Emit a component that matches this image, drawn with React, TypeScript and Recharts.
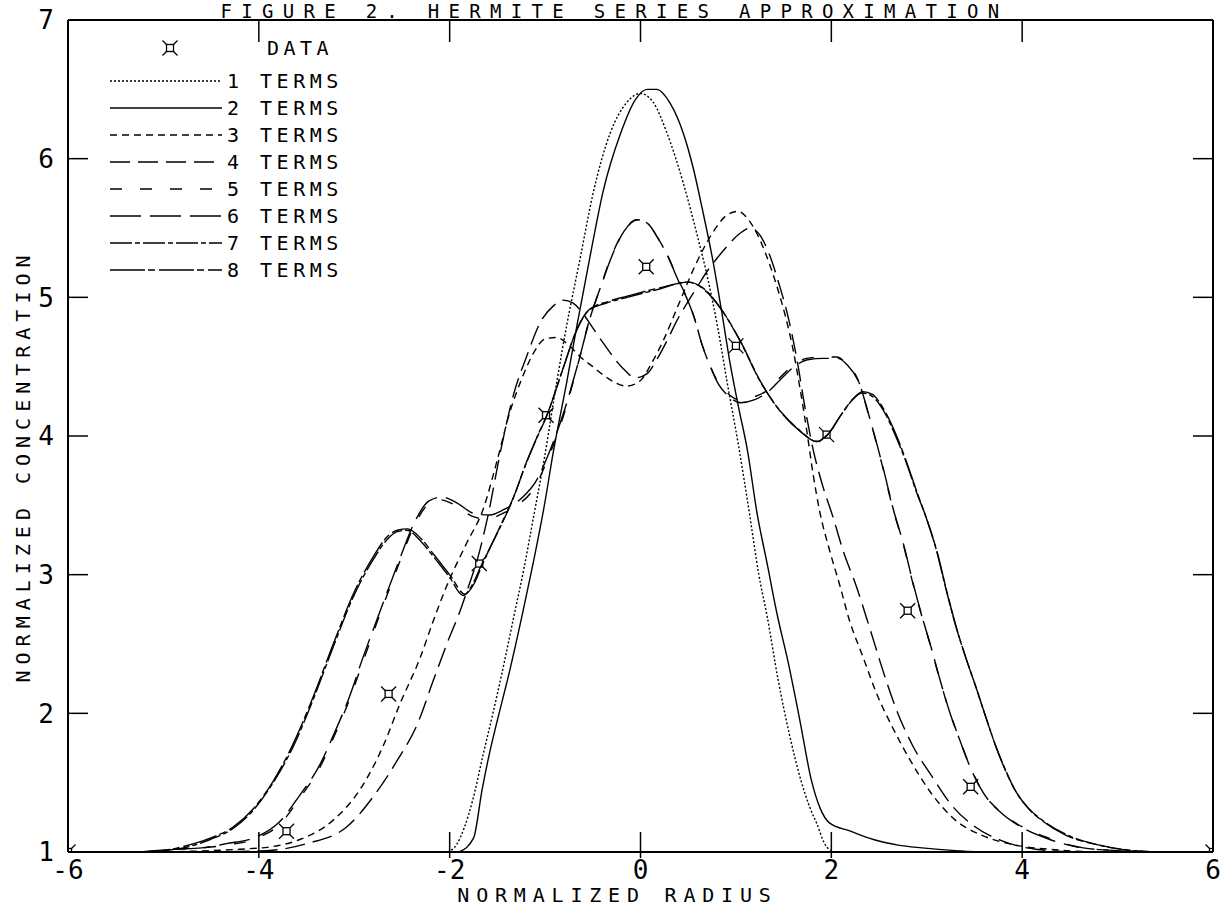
import React from 'react'
import { ComposedChart, Line, Scatter, XAxis, YAxis, Legend, Label } from 'recharts'

const FONT = '"DejaVu Sans Mono", monospace'
const INK = '#000'

type Pt = [number, number]

const radiusTicks = [-6, -4, -2, 0, 2, 4, 6]
const concTicks = [1, 2, 3, 4, 5, 6, 7]

// measured data (normalized radius, normalized concentration)
const dataPoints: Pt[] = [
  [-6, 1.0], [-3.71, 1.15], [-2.64, 2.14], [-1.69, 3.08], [-0.99, 4.15], [0.06, 5.22],
  [1.0, 4.65], [1.95, 4.01], [2.8, 2.74], [3.46, 1.47], [6, 1.0],
]

const terms1: Pt[] = [
  [-2.02, 1.0], [-1.93, 1.05], [-1.85, 1.17], [-1.76, 1.37], [-1.65, 1.7], [-1.54, 2.02], [-1.43, 2.36],
  [-1.33, 2.69], [-1.22, 3.05], [-1.12, 3.42], [-1.01, 3.83], [-0.88, 4.38], [-0.77, 4.81], [-0.63, 5.29],
  [-0.5, 5.74], [-0.32, 6.18], [-0.15, 6.4], [0.0, 6.47], [0.13, 6.41], [0.28, 6.18], [0.45, 5.82],
  [0.59, 5.46], [0.71, 5.12], [0.81, 4.78], [0.91, 4.38], [1.03, 3.92], [1.14, 3.45], [1.24, 3.0],
  [1.33, 2.69], [1.44, 2.25], [1.56, 1.85], [1.68, 1.52], [1.77, 1.33], [1.85, 1.2], [1.93, 1.06], [2.02, 1.0],
]

const terms2: Pt[] = [
  [-1.9, 1.0], [-1.75, 1.1], [-1.66, 1.45], [-1.58, 1.72], [-1.5, 1.95], [-1.37, 2.31], [-1.23, 2.74],
  [-1.12, 3.1], [-1.01, 3.49], [-0.91, 3.9], [-0.77, 4.4], [-0.66, 4.82], [-0.53, 5.29], [-0.39, 5.77],
  [-0.21, 6.18], [-0.05, 6.43], [0.07, 6.5], [0.17, 6.5], [0.31, 6.4], [0.45, 6.18], [0.55, 5.94],
  [0.65, 5.63], [0.76, 5.26], [0.85, 4.9], [0.94, 4.52], [1.03, 4.2], [1.12, 3.9], [1.22, 3.45],
  [1.33, 3.07], [1.43, 2.72], [1.55, 2.36], [1.67, 1.95], [1.79, 1.52], [1.88, 1.32], [1.98, 1.21],
  [2.2, 1.15], [2.44, 1.09], [2.7, 1.05], [2.95, 1.03], [3.3, 1.01], [3.6, 1.0],
]

const terms3: Pt[] = [
  [-5.1, 1.0], [-4.5, 1.01], [-4.2, 1.02], [-3.85, 1.04], [-3.57, 1.09], [-3.22, 1.23], [-2.94, 1.45],
  [-2.7, 1.76], [-2.52, 2.07], [-2.31, 2.4], [-2.17, 2.67], [-2.03, 2.92], [-1.82, 3.23], [-1.65, 3.47],
  [-1.5, 3.83], [-1.37, 4.17], [-1.24, 4.42], [-1.12, 4.6], [-1.0, 4.7], [-0.88, 4.71], [-0.76, 4.66],
  [-0.63, 4.57], [-0.5, 4.5], [-0.35, 4.42], [-0.15, 4.36], [0.0, 4.4], [0.12, 4.53], [0.24, 4.69],
  [0.4, 4.95], [0.58, 5.24], [0.76, 5.47], [0.9, 5.59], [1.02, 5.62], [1.12, 5.57], [1.22, 5.46],
  [1.32, 5.3], [1.42, 5.1], [1.52, 4.86], [1.6, 4.62], [1.67, 4.35], [1.74, 4.05], [1.81, 3.72],
  [1.88, 3.45], [1.98, 3.18], [2.09, 2.92], [2.19, 2.67], [2.33, 2.41], [2.47, 2.15], [2.64, 1.9],
  [2.82, 1.67], [3.03, 1.44], [3.3, 1.23], [3.58, 1.12], [3.93, 1.05], [4.28, 1.02], [4.8, 1.0],
]

const terms4: Pt[] = [
  [-4.6, 1.0], [-3.92, 1.01], [-3.5, 1.06], [-3.08, 1.18], [-2.8, 1.4], [-2.55, 1.66], [-2.34, 1.92],
  [-2.17, 2.24], [-2.03, 2.5], [-1.89, 2.74], [-1.8, 2.92], [-1.71, 3.11], [-1.6, 3.42], [-1.47, 3.88],
  [-1.33, 4.3], [-1.19, 4.58], [-1.05, 4.82], [-0.91, 4.94], [-0.81, 4.98], [-0.71, 4.96], [-0.6, 4.88],
  [-0.5, 4.78], [-0.39, 4.67], [-0.2, 4.5], [-0.05, 4.42], [0.07, 4.45], [0.17, 4.55], [0.28, 4.69],
  [0.38, 4.83], [0.49, 4.96], [0.59, 5.07], [0.7, 5.19], [0.8, 5.28], [0.91, 5.37], [1.04, 5.46],
  [1.15, 5.5], [1.25, 5.45], [1.35, 5.31], [1.45, 5.1], [1.55, 4.85], [1.64, 4.55], [1.72, 4.22],
  [1.81, 3.9], [1.91, 3.64], [2.02, 3.41], [2.12, 3.18], [2.26, 2.92], [2.4, 2.62], [2.54, 2.31],
  [2.68, 2.03], [2.85, 1.77], [3.06, 1.54], [3.27, 1.33], [3.51, 1.18], [3.79, 1.08], [4.14, 1.02], [4.6, 1.0],
]

const terms5: Pt[] = [
  [-5.2, 1.0], [-4.86, 1.02], [-4.6, 1.03], [-4.34, 1.05], [-4.02, 1.1], [-3.78, 1.2], [-3.57, 1.39],
  [-3.36, 1.61], [-3.22, 1.82], [-3.05, 2.1], [-2.91, 2.37], [-2.76, 2.66], [-2.63, 2.9], [-2.52, 3.1],
  [-2.36, 3.37], [-2.22, 3.51], [-2.1, 3.54], [-1.94, 3.5], [-1.76, 3.42], [-1.6, 3.4], [-1.45, 3.44],
  [-1.27, 3.51], [-1.1, 3.64], [-0.98, 3.82], [-0.81, 4.14], [-0.67, 4.48], [-0.53, 4.85], [-0.42, 5.07],
  [-0.32, 5.27], [-0.18, 5.47], [-0.04, 5.56], [0.07, 5.54], [0.17, 5.44], [0.28, 5.31], [0.38, 5.15],
  [0.49, 4.99], [0.56, 4.86], [0.63, 4.69], [0.71, 4.54], [0.81, 4.39], [0.91, 4.31], [1.04, 4.26],
  [1.18, 4.28], [1.33, 4.33], [1.46, 4.42], [1.6, 4.51], [1.74, 4.56], [1.91, 4.57], [2.06, 4.57],
  [2.16, 4.52], [2.27, 4.42], [2.4, 4.13], [2.54, 3.77], [2.64, 3.49], [2.75, 3.23], [2.85, 2.95],
  [2.94, 2.72], [3.03, 2.51], [3.13, 2.26], [3.23, 2.03], [3.34, 1.82], [3.44, 1.64], [3.58, 1.44],
  [3.79, 1.28], [3.93, 1.21], [4.28, 1.1], [4.63, 1.03], [5.0, 1.01], [5.3, 1.0],
]

const terms6: Pt[] = [
  [-5.25, 1.0], [-4.9, 1.02], [-4.6, 1.03], [-4.34, 1.06], [-4.02, 1.11], [-3.78, 1.22], [-3.57, 1.41],
  [-3.36, 1.63], [-3.22, 1.84], [-3.05, 2.12], [-2.91, 2.4], [-2.76, 2.68], [-2.63, 2.92], [-2.52, 3.12],
  [-2.36, 3.39], [-2.22, 3.53], [-2.08, 3.56], [-1.93, 3.52], [-1.74, 3.44], [-1.58, 3.43], [-1.43, 3.47],
  [-1.25, 3.55], [-1.09, 3.68], [-0.97, 3.86], [-0.8, 4.18], [-0.66, 4.51], [-0.52, 4.87], [-0.41, 5.09],
  [-0.31, 5.28], [-0.17, 5.48], [-0.03, 5.56], [0.08, 5.53], [0.18, 5.43], [0.29, 5.29], [0.39, 5.13],
  [0.5, 4.97], [0.57, 4.84], [0.64, 4.67], [0.72, 4.52], [0.82, 4.37], [0.92, 4.29], [1.05, 4.24],
  [1.19, 4.26], [1.34, 4.32], [1.47, 4.41], [1.61, 4.5], [1.75, 4.55], [1.92, 4.56], [2.07, 4.56],
  [2.17, 4.51], [2.28, 4.4], [2.41, 4.11], [2.55, 3.75], [2.65, 3.47], [2.76, 3.21], [2.86, 2.93],
  [2.95, 2.7], [3.04, 2.49], [3.14, 2.24], [3.24, 2.01], [3.35, 1.8], [3.45, 1.62], [3.59, 1.43],
  [3.8, 1.27], [3.94, 1.2], [4.29, 1.09], [4.64, 1.03], [5.0, 1.01], [5.3, 1.0],
]

const terms7: Pt[] = [
  [-5.3, 1.0], [-5.0, 1.01], [-4.79, 1.03], [-4.51, 1.09], [-4.27, 1.17], [-4.06, 1.3], [-3.85, 1.5],
  [-3.64, 1.76], [-3.43, 2.1], [-3.22, 2.48], [-3.01, 2.84], [-2.8, 3.11], [-2.66, 3.25], [-2.55, 3.31],
  [-2.45, 3.32], [-2.3, 3.24], [-2.17, 3.13], [-2.0, 2.98], [-1.86, 2.85], [-1.76, 2.93], [-1.68, 3.05],
  [-1.5, 3.3], [-1.34, 3.54], [-1.2, 3.8], [-1.09, 3.98], [-0.98, 4.15], [-0.82, 4.47], [-0.67, 4.76],
  [-0.55, 4.9], [-0.35, 4.96], [-0.14, 5.0], [0.2, 5.06], [0.49, 5.11], [0.65, 5.07], [0.83, 4.93],
  [1.04, 4.69], [1.25, 4.4], [1.43, 4.21], [1.67, 4.04], [1.84, 3.96], [1.95, 4.0], [2.1, 4.15],
  [2.22, 4.26], [2.32, 4.31], [2.42, 4.29], [2.55, 4.18], [2.68, 3.99], [2.79, 3.8], [2.89, 3.6],
  [3.0, 3.4], [3.1, 3.18], [3.2, 2.9], [3.3, 2.64], [3.4, 2.42], [3.51, 2.2], [3.62, 1.97], [3.72, 1.77],
  [3.82, 1.6], [3.93, 1.44], [4.06, 1.32], [4.21, 1.23], [4.45, 1.13], [4.8, 1.05], [5.15, 1.01], [5.4, 1.0],
]

const terms8: Pt[] = [
  [-5.3, 1.0], [-5.0, 1.01], [-4.79, 1.04], [-4.51, 1.1], [-4.27, 1.18], [-4.06, 1.31], [-3.85, 1.51],
  [-3.64, 1.78], [-3.43, 2.12], [-3.22, 2.5], [-3.01, 2.86], [-2.8, 3.13], [-2.66, 3.27], [-2.55, 3.32],
  [-2.44, 3.33], [-2.3, 3.26], [-2.16, 3.14], [-1.99, 2.99], [-1.84, 2.86], [-1.74, 2.94], [-1.66, 3.07],
  [-1.49, 3.32], [-1.33, 3.56], [-1.19, 3.82], [-1.08, 4.0], [-0.97, 4.17], [-0.81, 4.49], [-0.66, 4.78],
  [-0.54, 4.91], [-0.34, 4.97], [-0.13, 5.01], [0.21, 5.07], [0.5, 5.11], [0.66, 5.06], [0.84, 4.92],
  [1.05, 4.68], [1.26, 4.39], [1.44, 4.2], [1.68, 4.03], [1.85, 3.96], [1.96, 4.01], [2.11, 4.16],
  [2.23, 4.27], [2.33, 4.32], [2.43, 4.3], [2.56, 4.18], [2.69, 3.99], [2.8, 3.79], [2.9, 3.59],
  [3.01, 3.38], [3.11, 3.16], [3.21, 2.88], [3.31, 2.62], [3.41, 2.4], [3.52, 2.18], [3.63, 1.95],
  [3.73, 1.75], [3.83, 1.58], [3.94, 1.43], [4.07, 1.31], [4.22, 1.22], [4.46, 1.12], [4.81, 1.05],
  [5.16, 1.01], [5.4, 1.0],
]

const rows = (pts: Pt[]) => pts.map(([x, y]) => ({ x, y }))

const series = [
  { name: '1 TERMS', pts: terms1, dash: '2 2' },
  { name: '2 TERMS', pts: terms2, dash: undefined },
  { name: '3 TERMS', pts: terms3, dash: '7 5' },
  { name: '4 TERMS', pts: terms4, dash: '20 8' },
  { name: '5 TERMS', pts: terms5, dash: '12 18' },
  { name: '6 TERMS', pts: terms6, dash: '31 9' },
  { name: '7 TERMS', pts: terms7, dash: '22 3 5 3' },
  { name: '8 TERMS', pts: terms8, dash: '35 3 7 4' },
]

const LW = 1.4
const TICK_LEN = 20
const LEFT_MARGIN = 14

function DataMarker({ cx, cy }: any) {
  if (cx == null || cy == null) return null
  const h = 3.5
  const s = 7.5
  return (
    <g stroke={INK} strokeWidth={1.3} fill="none">
      <rect x={cx - h} y={cy - h} width={h * 2} height={h * 2} />
      <line x1={cx - h} y1={cy - h} x2={cx - s} y2={cy - s} />
      <line x1={cx + h} y1={cy - h} x2={cx + s} y2={cy - s} />
      <line x1={cx - h} y1={cy + h} x2={cx - s} y2={cy + s} />
      <line x1={cx + h} y1={cy + h} x2={cx + s} y2={cy + s} />
    </g>
  )
}

// ticks point into the plot on all four sides
function LeftTick({ x, y, payload }: any) {
  const ax = x + LEFT_MARGIN
  const v = payload.value
  return (
    <g>
      {v !== 1 && v !== 7 && <line x1={ax} x2={ax + TICK_LEN} y1={y} y2={y} stroke={INK} strokeWidth={1.5} />}
      <text x={x} y={y} dy="0.36em" textAnchor="end" fontFamily={FONT} fontSize={26} fill={INK}>{v}</text>
    </g>
  )
}

function BottomTick({ x, y, payload }: any) {
  const v = payload.value
  return (
    <g>
      {Math.abs(v) !== 6 && <line x1={x} x2={x} y1={y + 6} y2={y - TICK_LEN} stroke={INK} strokeWidth={1.5} />}
      <text x={x} y={y + 27} textAnchor="middle" fontFamily={FONT} fontSize={26} fill={INK}>{v}</text>
    </g>
  )
}

function TopTick({ x, y, payload }: any) {
  if (Math.abs(payload.value) === 6) return <g />
  return <line x1={x} x2={x} y1={y} y2={y + TICK_LEN + 2} stroke={INK} strokeWidth={1.5} />
}

function RightTick({ x, y, payload }: any) {
  if (payload.value === 1 || payload.value === 7) return <g />
  return <line x1={x - TICK_LEN} x2={x} y1={y} y2={y} stroke={INK} strokeWidth={1.5} />
}

function LegendBox() {
  const rowY = (i: number) => 53 + 27 * i
  return (
    <svg width={300} height={260} style={{ display: 'block' }}>
      <DataMarker cx={70} cy={20} />
      <text x={167} y={20} dy="0.36em" fontFamily={FONT} fontSize={20} letterSpacing={4.5} fill={INK}>DATA</text>
      {series.map((s, i) => (
        <g key={s.name}>
          <line x1={10} x2={122} y1={rowY(i)} y2={rowY(i)} stroke={INK} strokeWidth={LW} strokeDasharray={s.dash} />
          <text x={127} y={rowY(i)} dy="0.36em" fontFamily={FONT} fontSize={20} letterSpacing={4.5} fill={INK}>{s.name}</text>
        </g>
      ))}
    </svg>
  )
}

export default function App() {
  return (
    <div style={{ position: 'absolute', left: 0, top: 0, width: 1231, height: 915, background: '#fff' }}>
      <ComposedChart width={1231} height={915} margin={{ top: 19, right: 17, bottom: 0, left: 0 }}>
        <XAxis
          xAxisId="b" dataKey="x" type="number" domain={[-6, 6]} ticks={radiusTicks} allowDataOverflow
          height={63} tickSize={0} tickMargin={0} tickLine={false} interval={0}
          axisLine={{ stroke: INK, strokeWidth: 2 }} tick={<BottomTick />}
        >
          <Label content={({ viewBox }: any) => (
            <text x={viewBox.x + viewBox.width / 2 - 23} y={viewBox.y + 50} textAnchor="middle"
              fontFamily={FONT} fontSize={20} letterSpacing={6.8} fill={INK}>NORMALIZED RADIUS</text>
          )} />
        </XAxis>
        <XAxis
          xAxisId="t" dataKey="x" orientation="top" type="number" domain={[-6, 6]} ticks={radiusTicks} allowDataOverflow
          height={1} tickSize={0} tickMargin={0} tickLine={false} interval={0}
          axisLine={{ stroke: INK, strokeWidth: 2 }} tick={<TopTick />}
        >
          <Label content={({ viewBox }: any) => (
            <text x={viewBox.x + viewBox.width / 2 - 26} y={viewBox.y - 1} textAnchor="middle"
              fontFamily={FONT} fontSize={19} letterSpacing={9.3} fill={INK}>FIGURE 2. HERMITE SERIES APPROXIMATION</text>
          )} />
        </XAxis>
        <YAxis
          yAxisId="l" dataKey="y" type="number" domain={[1, 7]} ticks={concTicks} allowDataOverflow
          width={68} tickSize={0} tickMargin={LEFT_MARGIN} tickLine={false} interval={0}
          axisLine={{ stroke: INK, strokeWidth: 2 }} tick={<LeftTick />}
        >
          <Label content={({ viewBox }: any) => (
            <text transform={`translate(30, ${viewBox.y + viewBox.height / 2 + 30}) rotate(-90)`} textAnchor="middle"
              fontFamily={FONT} fontSize={20} letterSpacing={6} fill={INK}>NORMALIZED CONCENTRATION</text>
          )} />
        </YAxis>
        <YAxis
          yAxisId="r" dataKey="y" orientation="right" type="number" domain={[1, 7]} ticks={concTicks} allowDataOverflow
          width={1} tickSize={0} tickMargin={0} tickLine={false} interval={0}
          axisLine={{ stroke: INK, strokeWidth: 2 }} tick={<RightTick />}
        />
        <Legend
          verticalAlign="middle" align="center" layout="horizontal"
          wrapperStyle={{ left: 100, top: 28, width: 300, height: 260 }}
          content={() => <LegendBox />}
        />
        {series.map((s) => (
          <Line
            key={s.name} name={s.name} xAxisId="b" yAxisId="l" data={rows(s.pts)} dataKey="y"
            type="monotone" stroke={INK} strokeWidth={LW} strokeDasharray={s.dash}
            dot={false} activeDot={false} isAnimationActive={false}
          />
        ))}
        {/* same readings bound to the top/right axes so the frame axes are drawn */}
        <Line
          xAxisId="t" yAxisId="r" data={rows(dataPoints)} dataKey="y" stroke="none"
          dot={false} activeDot={false} legendType="none" isAnimationActive={false}
        />
        <Scatter
          name="DATA" xAxisId="b" yAxisId="l" data={rows(dataPoints)} dataKey="y"
          shape={(p: any) => <DataMarker cx={p.cx} cy={p.cy} />} isAnimationActive={false}
        />
      </ComposedChart>
    </div>
  )
}
